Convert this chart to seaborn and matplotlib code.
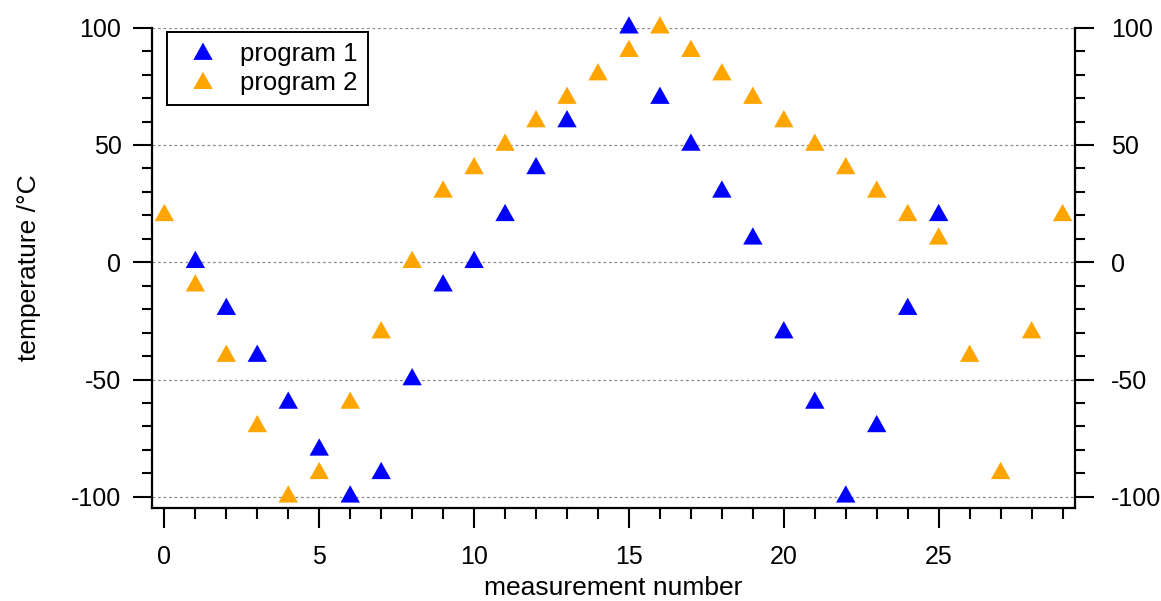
import numpy as np
import pandas as pd
import matplotlib
matplotlib.use("Agg")
import matplotlib.pyplot as plt
from matplotlib.path import Path
from matplotlib.ticker import MultipleLocator
import seaborn as sns

# Measured temperatures for the two heating programs
prog1_x = [1, 2, 3, 4, 5, 6, 7, 8, 9, 10, 11, 12, 13, 15, 16, 17, 18, 19, 20, 21, 22, 23, 24, 25]
prog1_t = [0, -20, -40, -60, -80, -100, -90, -50, -10, 0, 20, 40, 60, 100, 70, 50, 30, 10, -30, -60, -100, -70, -20, 20]

prog2_x = list(range(0, 30))
prog2_t = [20, -10, -40, -70, -100, -90, -60, -30, 0, 30, 40, 50, 60, 70, 80, 90, 100, 90, 80, 70,
           60, 50, 40, 30, 20, 10, -40, -90, -30, 20]

series_names = ["program 1", "program 2"]
series_colors = ["#0000FF", "#FFA500"]

sns.set_theme(style="white")
plt.rcParams["font.family"] = ["Liberation Sans", "DejaVu Sans"]
plt.rcParams["axes.unicode_minus"] = False
plt.rcParams["text.color"] = "black"

fig = plt.figure(figsize=(11.61, 6.01), dpi=100)
rect = [0.1309, 0.1547, 0.9259 - 0.1309, 0.9539 - 0.1547]
ax = fig.add_axes(rect)

# Triangle centred on its centroid
tri = Path([(0, 11.5), (-9.7, -5.8), (9.7, -5.8), (0, 11.5)],
           [Path.MOVETO, Path.LINETO, Path.LINETO, Path.CLOSEPOLY])
msize = 23 * 72 / 100.0

df1 = pd.DataFrame({"x": prog1_x, "t": prog1_t})
df2 = pd.DataFrame({"x": prog2_x, "t": prog2_t})
for df, name, col in [(df1, series_names[0], series_colors[0]), (df2, series_names[1], series_colors[1])]:
    sns.scatterplot(data=df, x="x", y="t", ax=ax, marker=tri, s=msize ** 2,
                    color=col, edgecolor="none", linewidth=0, label=name,
                    clip_on=False, zorder=3)

ylim = (-104.8, 100)
ax.set_xlim(-0.4, 29.4)
ax.set_ylim(*ylim)

ax.xaxis.set_major_locator(MultipleLocator(5))
ax.xaxis.set_minor_locator(MultipleLocator(1))
ax.yaxis.set_major_locator(MultipleLocator(50))
ax.yaxis.set_minor_locator(MultipleLocator(10))

for ln in [-100, -50, 0, 50, 100]:
    ax.axhline(ln, color="#8c8c8c", linestyle=(0, (2.2, 2.2)), linewidth=0.9, zorder=1)

for side in ["left", "bottom"]:
    ax.spines[side].set_visible(True)
    ax.spines[side].set_color("black")
    ax.spines[side].set_linewidth(1.6)
ax.spines["top"].set_visible(False)
ax.spines["right"].set_visible(False)

ax.tick_params(axis="both", which="both", direction="out", color="black", width=1.5,
               labelsize=18, labelcolor="black")
ax.tick_params(axis="y", which="both", left=True, right=False, labelleft=True, labelright=False)
ax.tick_params(axis="x", which="both", bottom=True, top=False)
ax.tick_params(axis="y", which="major", length=14, pad=8)
ax.tick_params(axis="y", which="minor", length=7.3)
ax.tick_params(axis="x", which="major", length=14.5, pad=12)
ax.tick_params(axis="x", which="minor", length=7.8)

# Mirrored temperature axis on the right
ax2 = ax.twinx()
ax2.set_ylim(*ylim)
ax2.yaxis.set_major_locator(MultipleLocator(50))
ax2.yaxis.set_minor_locator(MultipleLocator(10))
for side in ["left", "top", "bottom"]:
    ax2.spines[side].set_visible(False)
ax2.spines["right"].set_visible(True)
ax2.spines["right"].set_color("black")
ax2.spines["right"].set_linewidth(1.6)
ax2.grid(False)
ax2.tick_params(axis="y", which="both", direction="out", color="black", width=1.5,
                labelsize=18, labelcolor="black", right=True, left=False,
                labelright=True, labelleft=False)
ax2.tick_params(axis="y", which="major", length=14, pad=12)
ax2.tick_params(axis="y", which="minor", length=7.3)

ax.set_xlabel("measurement number", fontsize=19, color="black", labelpad=5)
ax.set_ylabel("temperature /°C", fontsize=19, color="black", labelpad=22)

leg = ax.legend(loc="upper left", bbox_to_anchor=(0.0163, 0.992), frameon=True, fancybox=False,
                fontsize=18.5, handletextpad=0.45, borderpad=0.4, labelspacing=0.2,
                handlelength=2.0, borderaxespad=0.0, labelcolor="black")
leg.get_frame().set_edgecolor("black")
leg.get_frame().set_linewidth(1.4)
leg.get_frame().set_facecolor("white")
leg.get_frame().set_alpha(1)

fig.savefig("out.png", dpi=100, facecolor="white")
